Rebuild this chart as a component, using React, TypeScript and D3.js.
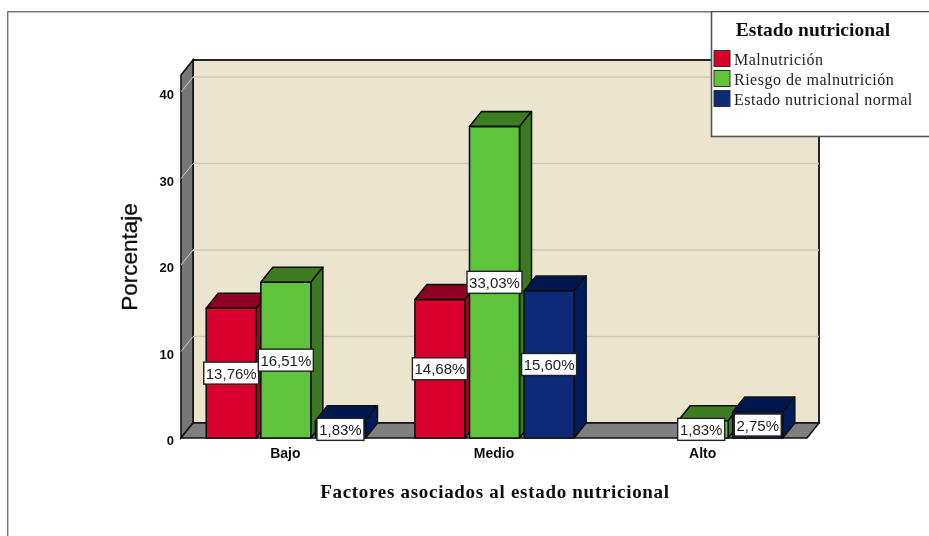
import React from "react";
import * as d3 from "d3";

const categories = ["Bajo", "Medio", "Alto"];
const seriesNames = ["Malnutrición", "Riesgo de malnutrición", "Estado nutricional normal"];
const malnutricion = [15, 16, 0];
const riesgo = [18, 36, 2];
const normal = [2, 17, 3];
const labelsMal = ["13,76%", "14,68%", ""];
const labelsRiesgo = ["16,51%", "33,03%", "1,83%"];
const labelsNormal = ["1,83%", "15,60%", "2,75%"];
const yTicks = [0, 10, 20, 30, 40];
const frontColors = ["#d9002f", "#5fc43a", "#0a2a78"];
const topColors = ["#8f0622", "#3d7d22", "#06184f"];
const sideColors = ["#a5052a", "#3a7a20", "#051d5c"];

const SANS = "'Liberation Sans', Arial, sans-serif";
const SERIF = "'Liberation Serif', 'Times New Roman', serif";
const DX = 12, DY = -15;
const X0 = 181, X1 = 807, Y0 = 438;

const x = d3.scaleBand<string>().domain(categories).range([X0, X1]);
const y = d3.scaleLinear().domain([0, 40]).range([Y0, 92]);
const BAR_W = 50, BAR_STEP = 54.6;
const TOP_Y = 75;

const poly = (pts: [number, number][]) => pts.map((p) => p.join(",")).join(" ");

export default function App() {
  const series = [malnutricion, riesgo, normal];
  const labels = [labelsMal, labelsRiesgo, labelsNormal];
  const groupW = BAR_STEP * 2 + BAR_W;
  return (
    <svg width={929} height={536} viewBox="0 0 929 536" style={{ position: "absolute", left: 0, top: 0, background: "#fff" }}>
      <defs>
        <filter id="soft" x="0" y="0" width="100%" height="100%">
          <feGaussianBlur stdDeviation="0.5" />
        </filter>
      </defs>
      <g filter="url(#soft)">
        <path d="M7.5,536V11.5H929" fill="none" stroke="#777" strokeWidth={1.8} />
        {/* back wall */}
        <rect x={X0 + DX} y={TOP_Y + DY} width={X1 - X0} height={Y0 - TOP_Y} fill="#ebe5d0" stroke="#111" strokeWidth={1.8} />
        {/* left wall */}
        <polygon points={poly([[X0, TOP_Y], [X0 + DX, TOP_Y + DY], [X0 + DX, Y0 + DY], [X0, Y0]])} fill="#777" stroke="#111" strokeWidth={1.6} />
        {/* floor */}
        <polygon points={poly([[X0, Y0], [X0 + DX, Y0 + DY], [X1 + DX, Y0 + DY], [X1, Y0]])} fill="#7f7f7f" stroke="#111" strokeWidth={1.5} />
        {yTicks.filter((t) => t > 0).map((t) => (
          <g key={t}>
            <line x1={X0 + DX} x2={X1 + DX} y1={y(t) + DY} y2={y(t) + DY} stroke="#cfcaba" strokeWidth={1.6} />
            <line x1={X0} x2={X0 + DX} y1={y(t)} y2={y(t) + DY} stroke="#c9c9c9" strokeWidth={1} />
          </g>
        ))}
        {yTicks.map((t) => (
          <text key={t} x={174} y={y(t) + 7} textAnchor="end" fontFamily={SANS} fontWeight="bold" fontSize={13} fill="#111">{t}</text>
        ))}
        <text transform="translate(137,257) rotate(-90)" textAnchor="middle" fontFamily={SANS} fontSize={22.5} fill="#111" stroke="#111" strokeWidth={0.3}>Porcentaje</text>

        {categories.map((c, ci) => {
          const start = x(c)! + (x.bandwidth() - groupW) / 2 + 0.5;
          return (
            <g key={c}>
              {series.map((s, si) => {
                const v = s[ci];
                if (!v) return null;
                const bx = start + si * BAR_STEP, by = y(v);
                return (
                  <g key={si} stroke="#111" strokeWidth={1.6} strokeLinejoin="round">
                    <polygon points={poly([[bx, by], [bx + DX, by + DY], [bx + BAR_W + DX, by + DY], [bx + BAR_W, by]])} fill={topColors[si]} />
                    <polygon points={poly([[bx + BAR_W, by], [bx + BAR_W + DX, by + DY], [bx + BAR_W + DX, Y0 + DY], [bx + BAR_W, Y0]])} fill={sideColors[si]} />
                    <rect x={bx} y={by} width={BAR_W} height={Y0 - by} fill={frontColors[si]} />
                  </g>
                );
              })}
              {series.map((s, si) => {
                const v = s[ci];
                const t = labels[si][ci];
                if (!v || !t) return null;
                const cx = start + si * BAR_STEP + BAR_W / 2 - (si === 1 && v === 2 ? 2 : 0), cy = (y(v) + Y0) / 2;
                const w = t.length > 5 ? 55 : 47;
                return (
                  <g key={si}>
                    <rect x={cx - w / 2} y={cy - 11} width={w} height={22} fill="#fff" stroke="#222" strokeWidth={1.4} />
                    <text x={cx} y={cy + 5.5} textAnchor="middle" fontFamily={SANS} fontSize={15} fill="#222">{t}</text>
                  </g>
                );
              })}
              <text x={x(c)! + x.bandwidth() / 2} y={458} textAnchor="middle" fontFamily={SANS} fontWeight="bold" fontSize={14} fill="#111">{c}</text>
            </g>
          );
        })}
        <text x={495} y={498} textAnchor="middle" fontFamily={SERIF} fontWeight="bold" fontSize={19} letterSpacing={0.7} fill="#111">Factores asociados al estado nutricional</text>

        {/* legend */}
        <rect x={711.5} y={11.5} width={230} height={125} fill="#fff" stroke="#555" strokeWidth={1.6} />
        <text x={813} y={36} textAnchor="middle" fontFamily={SERIF} fontWeight="bold" fontSize={19.5} fill="#111">Estado nutricional</text>
        {seriesNames.map((n, i) => (
          <g key={n}>
            <rect x={714} y={50.5 + i * 20} width={16} height={16} fill={frontColors[i]} stroke="#333" strokeWidth={1} />
            <text x={734} y={65 + i * 20} fontFamily={SERIF} fontSize={16} letterSpacing={0.5} fill="#222">{n}</text>
          </g>
        ))}
      </g>
    </svg>
  );
}
